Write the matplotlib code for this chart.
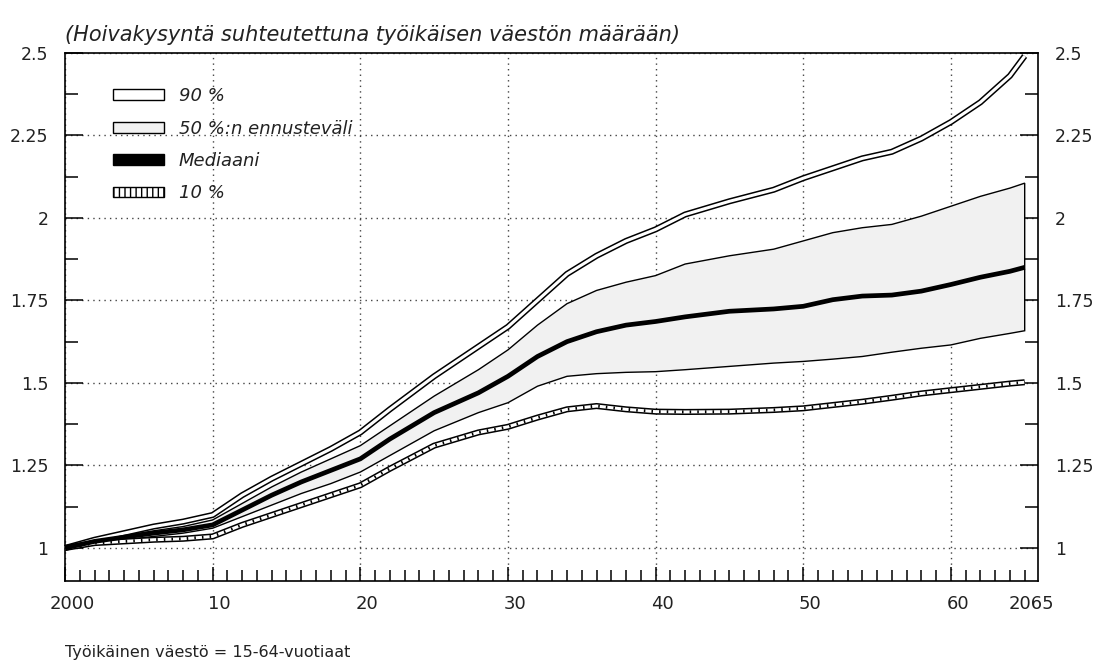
import numpy as np
import matplotlib
matplotlib.use('Agg')
import matplotlib.pyplot as plt
from matplotlib.patches import Patch
from matplotlib.transforms import ScaledTranslation

plt.rcParams['font.family'] = ['DejaVu Sans']

# hoivakysynnän ennuste, 2000 = 1
years = [2000, 2002, 2004, 2006, 2008, 2010, 2012, 2014, 2016, 2018, 2020, 2022,
         2025, 2028, 2030, 2032, 2034, 2036, 2038, 2040, 2042, 2045, 2048, 2050,
         2052, 2054, 2056, 2058, 2060, 2062, 2064, 2065]
p90 = [1.0, 1.025, 1.045, 1.065, 1.08, 1.10, 1.16, 1.21, 1.255, 1.30, 1.35, 1.42,
       1.52, 1.61, 1.67, 1.75, 1.83, 1.885, 1.93, 1.965, 2.01, 2.05, 2.085, 2.12,
       2.15, 2.18, 2.20, 2.24, 2.29, 2.35, 2.43, 2.49]
p75 = [1.0, 1.02, 1.037, 1.052, 1.065, 1.085, 1.135, 1.185, 1.23, 1.27, 1.31, 1.37,
       1.46, 1.54, 1.60, 1.675, 1.74, 1.78, 1.805, 1.825, 1.86, 1.885, 1.905, 1.93,
       1.955, 1.97, 1.98, 2.005, 2.035, 2.065, 2.09, 2.105]
median = [1.0, 1.02, 1.033, 1.045, 1.055, 1.07, 1.115, 1.16, 1.20, 1.235, 1.27, 1.33,
          1.41, 1.47, 1.52, 1.58, 1.625, 1.655, 1.675, 1.686, 1.70, 1.717, 1.724, 1.732,
          1.752, 1.763, 1.766, 1.778, 1.798, 1.82, 1.838, 1.85]
p25 = [1.0, 1.015, 1.025, 1.035, 1.045, 1.06, 1.095, 1.13, 1.165, 1.195, 1.23, 1.28,
       1.355, 1.41, 1.44, 1.49, 1.52, 1.528, 1.532, 1.534, 1.54, 1.55, 1.56, 1.565,
       1.572, 1.58, 1.593, 1.605, 1.615, 1.635, 1.65, 1.658]
p10 = [1.0, 1.015, 1.02, 1.025, 1.028, 1.035, 1.07, 1.10, 1.13, 1.16, 1.19, 1.24,
       1.31, 1.35, 1.367, 1.395, 1.42, 1.43, 1.42, 1.413, 1.412, 1.413, 1.418, 1.423,
       1.433, 1.443, 1.455, 1.468, 1.478, 1.488, 1.498, 1.502]

x_major = [2000, 2010, 2020, 2030, 2040, 2050, 2060]
x_major_labels = ['2000', '10', '20', '30', '40', '50', '60']
y_ticks = [1, 1.25, 1.5, 1.75, 2, 2.25, 2.5]
y_labels = ['1', '1.25', '1.5', '1.75', '2', '2.25', '2.5']

band_color = '#f1f1f1'
text_color = '#222222'

fig = plt.figure(figsize=(11.04, 6.69), dpi=100)
ax = fig.add_axes([0.0589, 0.1315, 0.8813, 0.7897])

yr = np.array(years)
lo = np.array(p25)
hi = np.array(p75)

# 50 % ennusteväli
ax.fill(np.r_[yr, yr[::-1]], np.r_[hi, lo[::-1]], facecolor=band_color,
        edgecolor='black', lw=1.0, zorder=2)

# 90 % putkiviiva
ax.plot(years, p90, color='black', lw=4.4, solid_capstyle='butt', zorder=3, clip_on=False)
ax.plot(years, p90, color='white', lw=2.2, solid_capstyle='butt', zorder=3, clip_on=False)

# mediaani
ax.plot(years, median, color='black', lw=3.4, solid_capstyle='butt', zorder=4)

# 10 % tikapuuviiva
ax.plot(years, p10, color='black', lw=4.4, solid_capstyle='butt', zorder=3)
ax.plot(years, p10, color='white', lw=2.2, solid_capstyle='butt', zorder=3)
ax.plot(years, p10, color='black', lw=2.2, dashes=(0.5, 2.0),
        dash_capstyle='butt', zorder=3)

ax.set_xlim(2000, 2065.9)
ax.set_ylim(0.9, 2.5)

ax.set_xticks(x_major, labels=x_major_labels)
minor_years = [y for y in range(2001, 2066) if y % 10 != 0]
ax.set_xticks(minor_years, labels=['2065' if y == 2065 else '' for y in minor_years],
              minor=True)
ax.set_yticks(y_ticks, labels=y_labels)
ax.set_yticks([1.125, 1.375, 1.625, 1.875, 2.125, 2.375], minor=True)

ax.tick_params(axis='x', which='both', direction='in', top=False, pad=10,
               labelsize=13, width=1.1, labelcolor=text_color)
ax.tick_params(axis='x', which='major', length=10)
ax.tick_params(axis='x', which='minor', length=8)
ax.tick_params(axis='y', which='both', direction='in', left=True, right=True,
               labelleft=True, labelright=True, pad=12, labelsize=12.5, width=1.1,
               labelcolor=text_color)
ax.tick_params(axis='y', which='major', length=13)
ax.tick_params(axis='y', which='minor', length=9.5)

# tick labels sit a little right of their ticks
shift = ScaledTranslation(5 / 72, 0, fig.dpi_scale_trans)
for lab in ax.get_xticklabels() + ax.get_xticklabels(minor=True):
    lab.set_transform(lab.get_transform() + shift)

for s in ax.spines.values():
    s.set_linewidth(1.2)

ax.grid(True, which='major', linestyle=(0, (1, 3)), color='#444444', lw=1.0)
ax.set_axisbelow(True)

handles = [
    Patch(facecolor='white', edgecolor='black', lw=1.0, label='90 %'),
    Patch(facecolor=band_color, edgecolor='black', lw=1.0, label='50 %:n ennusteväli'),
    Patch(facecolor='black', edgecolor='black', lw=1.0, label='Mediaani'),
    Patch(facecolor='white', edgecolor='black', lw=1.0, hatch='|||', label='10 %'),
]
leg = ax.legend(handles=handles, loc='upper left', bbox_to_anchor=(0.049, 0.935),
                frameon=False, borderpad=0, borderaxespad=0, handlelength=2.85,
                handleheight=0.55, handletextpad=0.8, labelspacing=0.8,
                prop={'size': 13, 'style': 'italic'})
for t in leg.get_texts():
    t.set_color(text_color)

fig.text(0.0589, 0.947, '(Hoivakysyntä suhteutettuna työikäisen väestön määrään)',
         fontsize=15, style='italic', ha='left', va='center', color=text_color)
fig.text(0.0589, 0.024, 'Työikäinen väestö = 15-64-vuotiaat', fontsize=11.5,
         ha='left', va='center', color=text_color)

fig.savefig('out.png', dpi=100)
